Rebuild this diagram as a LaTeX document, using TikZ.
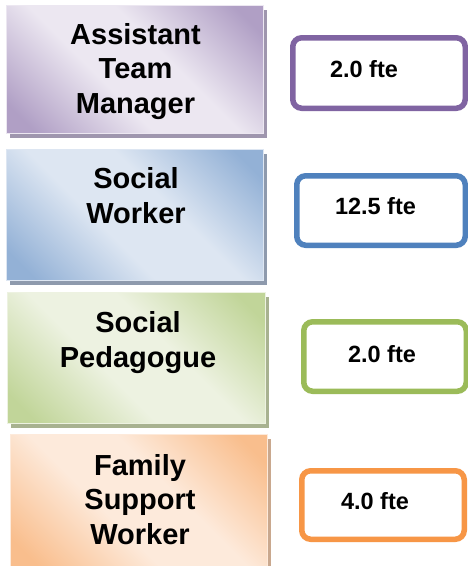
\documentclass[tikz,border=0pt]{standalone}
\usepackage{fontspec}
\setmainfont{Liberation Sans}
\usetikzlibrary{shadows}
\definecolor{pdark}{HTML}{B09FC5}
\definecolor{plight}{HTML}{ECE7F1}
\definecolor{pshadow}{HTML}{9F96AE}
\definecolor{pline}{HTML}{8064A2}
\definecolor{bdark}{HTML}{93B1D6}
\definecolor{blight}{HTML}{DDE6F2}
\definecolor{bshadow}{HTML}{8E9AAD}
\definecolor{bline}{HTML}{4F81BD}
\definecolor{gdark}{HTML}{C1D599}
\definecolor{glight}{HTML}{EDF2E1}
\definecolor{gshadow}{HTML}{A8B290}
\definecolor{gline}{HTML}{9BBB59}
\definecolor{odark}{HTML}{F9BE8D}
\definecolor{olight}{HTML}{FDEADB}
\definecolor{oshadow}{HTML}{C9A88E}
\definecolor{oline}{HTML}{F79646}
\pgfdeclareverticalshading{pshade}{100bp}{color(0bp)=(pdark); color(20bp)=(pdark); color(42bp)=(plight); color(58bp)=(plight); color(80bp)=(pdark); color(100bp)=(pdark)}
\pgfdeclareverticalshading{bshade}{100bp}{color(0bp)=(bdark); color(20bp)=(bdark); color(42bp)=(blight); color(58bp)=(blight); color(80bp)=(bdark); color(100bp)=(bdark)}
\pgfdeclareverticalshading{gshade}{100bp}{color(0bp)=(gdark); color(20bp)=(gdark); color(42bp)=(glight); color(58bp)=(glight); color(80bp)=(gdark); color(100bp)=(gdark)}
\pgfdeclareverticalshading{oshade}{100bp}{color(0bp)=(odark); color(20bp)=(odark); color(42bp)=(olight); color(58bp)=(olight); color(80bp)=(odark); color(100bp)=(odark)}
\begin{document}
\begin{tikzpicture}[x=1pt,y=-1pt,
  face/.style={rectangle, inner sep=0pt, anchor=north west, line width=0.8pt, shade, shading angle=-45},
  purpleface/.style={face, draw=plight, shading=pshade,
     drop shadow={shadow xshift=4pt, shadow yshift=-5pt, fill=pshadow, opacity=1}},
  blueface/.style={face, draw=blight, shading=bshade,
     drop shadow={shadow xshift=4pt, shadow yshift=-5pt, fill=bshadow, opacity=1}},
  greenface/.style={face, draw=glight, shading=gshade,
     drop shadow={shadow xshift=4pt, shadow yshift=-5pt, fill=gshadow, opacity=1}},
  orangeface/.style={face, draw=olight, shading=oshade,
     drop shadow={shadow xshift=4pt, shadow yshift=-5pt, fill=oshadow, opacity=1}},
  ftebox/.style={rectangle, rounded corners=9pt, line width=5.5pt, fill=white, inner sep=0pt},
  role/.style={anchor=base, inner sep=0pt, font=\fontsize{29}{34.5}\selectfont\bfseries},
  fte/.style={anchor=base, inner sep=0pt, font=\fontsize{23.5}{28}\selectfont\bfseries}
]
\useasboundingbox[fill=white] (0,0) rectangle (468,566);

% role boxes
\node[purpleface, minimum width=257pt, minimum height=128pt] (b1) at (6,5) {};
\node[blueface,   minimum width=257pt, minimum height=131pt] (b2) at (6,149) {};
\node[greenface,  minimum width=258pt, minimum height=131pt] (b3) at (7,292) {};
\node[orangeface, minimum width=257pt, minimum height=134pt] (b4) at (10,434) {};

% role texts
\node[role] (t1a) at (135.5,44) {Assistant};
\node[role] (t1b) at (135.5,78.5) {Team};
\node[role] (t1c) at (135.5,113) {Manager};
\node[role] (t2a) at (136,188) {Social};
\node[role] (t2b) at (136,223) {Worker};
\node[role] (t3a) at (138,332) {Social};
\node[role] (t3b) at (138,367) {Pedagogue};
\node[role] (t4a) at (140,475) {Family};
\node[role] (t4b) at (140,509.5) {Support};
\node[role] (t4c) at (140,544) {Worker};

% fte boxes
\node[ftebox, draw=pline, minimum width=172.5pt, minimum height=70.5pt] (f1) at (379,73) {};
\node[ftebox, draw=bline, minimum width=168.5pt, minimum height=69.5pt] (f2) at (381,210.5) {};
\node[ftebox, draw=gline, minimum width=162.5pt, minimum height=69.5pt] (f3) at (385,356.5) {};
\node[ftebox, draw=oline, minimum width=162.5pt, minimum height=68.5pt] (f4) at (383,505) {};

\node[fte] (v1) at (364,77) {2.0 fte};
\node[fte] (v2) at (375.5,214) {12.5 fte};
\node[fte] (v3) at (382,362) {2.0 fte};
\node[fte] (v4) at (375,509) {4.0 fte};
\end{tikzpicture}
\end{document}
